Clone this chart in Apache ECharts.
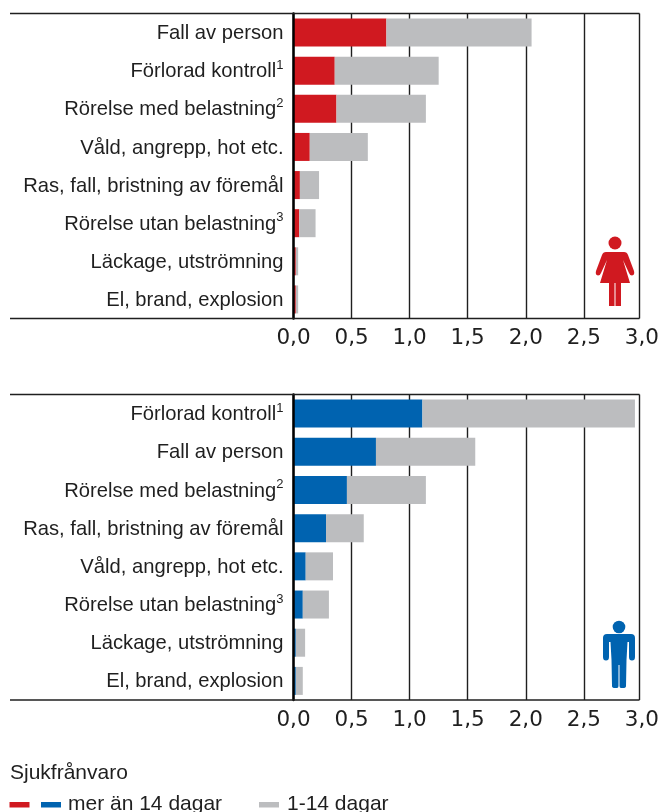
<!DOCTYPE html>
<html>
<head>
<meta charset="utf-8">
<style>
  html, body { margin: 0; padding: 0; background: #fff; }
  #chart { width: 662px; height: 812px; }
</style>
<script src="https://cdn.jsdelivr.net/npm/echarts@6/dist/echarts.min.js"></script>
</head>
<body>
<div id="chart"></div>
<script>
// kvinnor
const womenCategories = ['Fall av person', 'Förlorad kontroll', 'Rörelse med belastning', 'Våld, angrepp, hot etc.', 'Ras, fall, bristning av föremål', 'Rörelse utan belastning', 'Läckage, utströmning', 'El, brand, explosion']
const womenLong = [0.8, 0.355, 0.37, 0.14, 0.055, 0.05, 0.02, 0.02]
const womenShort = [1.25, 0.895, 0.77, 0.5, 0.165, 0.14, 0.02, 0.02]

// män
const menCategories = ['Förlorad kontroll', 'Fall av person', 'Rörelse med belastning', 'Ras, fall, bristning av föremål', 'Våld, angrepp, hot etc.', 'Rörelse utan belastning', 'Läckage, utströmning', 'El, brand, explosion']
const menLong = [1.11, 0.71, 0.46, 0.28, 0.105, 0.08, 0.02, 0.02]
const menShort = [1.83, 0.855, 0.68, 0.325, 0.235, 0.225, 0.08, 0.06]

const footnotes = { 'Förlorad kontroll': '1', 'Rörelse med belastning': '2', 'Rörelse utan belastning': '3' }

const legendTitle = 'Sjukfrånvaro'
const legendLong = 'mer än 14 dagar'
const legendShort = '1-14 dagar'

const RED = '#d01920'
const BLUE = '#0063b0'
const GRAY = '#bcbdbf'
const INK = '#1f1f1f'
const FONT = '"Liberation Sans", sans-serif'

// the 3,0 tick sits a little outside the printed frame, so the grid runs past it
const FRAME_RIGHT = 639.5
const GRIDS = [
  { left: 293.5, top: 13.5, width: 350.5, height: 305 },
  { left: 293.5, top: 394.5, width: 350.5, height: 305.5 },
]

function xAxis(i) {
  return {
    type: 'value',
    gridIndex: i,
    min: 0,
    max: 3,
    interval: 0.5,
    axisLine: { show: false },
    axisTick: { show: false },
    splitLine: { show: true, showMaxLine: false, lineStyle: { color: INK, width: 1.4 } },
    axisLabel: {
      color: INK,
      fontFamily: '"DejaVu Sans", sans-serif',
      fontSize: 21.5,
      margin: 9,
      formatter: (v) => v.toFixed(1).replace('.', ','),
    },
  }
}

function yAxis(i, data) {
  return {
    type: 'category',
    gridIndex: i,
    inverse: true,
    data,
    z: 5,
    axisLine: { show: true, lineStyle: { color: '#000', width: 2.5 } },
    axisTick: { show: false },
    splitLine: { show: false },
    axisLabel: {
      margin: 10,
      formatter: (v) => (footnotes[v] ? `{t|${v}}{s|${footnotes[v]}}` : `{t|${v}}`),
      rich: {
        t: { color: INK, fontFamily: FONT, fontSize: 20.2, padding: [2, 0, 0, 0] },
        s: { color: INK, fontFamily: FONT, fontSize: 13, padding: [0, 0, 11, 0] },
      },
    },
  }
}

function stack(i, name, data, color) {
  return {
    type: 'bar',
    name,
    stack: 'g' + i,
    xAxisIndex: i,
    yAxisIndex: i,
    barWidth: 28,
    itemStyle: { color },
    silent: true,
    data,
  }
}

function hline(x1, x2, y) {
  return { type: 'line', shape: { x1, y1: y, x2, y2: y }, style: { stroke: INK, lineWidth: 1.4 }, z: 10 }
}

function vline(x, y1, y2) {
  return { type: 'line', shape: { x1: x, y1, x2: x, y2 }, style: { stroke: INK, lineWidth: 1.4 }, z: 10 }
}

function swatch(x, width, fill) {
  return { type: 'rect', shape: { x, y: 802, width, height: 5.5 }, style: { fill } }
}

function label(x, y, text) {
  return { type: 'text', x, y, style: { text, fill: INK, font: `21px ${FONT}`, textVerticalAlign: 'middle' } }
}

const womanPath = 'M-9,16 L9,16 Q12,16 13,19 L19,35 Q20,39 17,39.5 Q15,39.5 14,37 L8,24 L15,47 L-15,47 L-8,24 L-14,37 Q-15,39.5 -17,39.5 Q-20,39 -19,35 L-13,19 Q-12,16 -9,16 Z M-6,47 L-0.5,47 L-0.5,70 L-6,70 Z M0.5,47 L6,47 L6,70 L0.5,70 Z'
const manPath = 'M-12,14 L12,14 Q16,14 16,18 L16,37 Q16,40.5 13,40.5 Q10,40.5 10,37 L10,22 L8.5,22 L7.5,40 L7,66 Q7,68 4,68 L2,68 Q0.5,68 0.5,66 L0.5,45 L-0.5,45 L-0.5,66 Q-0.5,68 -2,68 L-4,68 Q-7,68 -7,66 L-7.5,40 L-8.5,22 L-10,22 L-10,37 Q-10,40.5 -13,40.5 Q-16,40.5 -16,37 L-16,18 Q-16,14 -12,14 Z'

echarts.graphic.registerShape('woman', echarts.graphic.extendPath(womanPath))
echarts.graphic.registerShape('man', echarts.graphic.extendPath(manPath))

const chart = echarts.init(document.getElementById('chart'), null, { renderer: 'canvas' })
chart.setOption({
  animation: false,
  backgroundColor: '#fff',
  grid: GRIDS,
  xAxis: [xAxis(0), xAxis(1)],
  yAxis: [yAxis(0, womenCategories), yAxis(1, menCategories)],
  series: [
    stack(0, legendLong, womenLong, RED),
    stack(0, legendShort, womenShort, GRAY),
    stack(1, legendLong, menLong, BLUE),
    stack(1, legendShort, menShort, GRAY),
  ],
  graphic: [
    hline(10, FRAME_RIGHT, 13.5),
    hline(10, FRAME_RIGHT, 318.5),
    vline(FRAME_RIGHT, 13.5, 318.5),
    hline(10, FRAME_RIGHT, 394.5),
    hline(10, FRAME_RIGHT, 700),
    vline(FRAME_RIGHT, 394.5, 700),
    { type: 'circle', shape: { cx: 615, cy: 243, r: 6.5 }, style: { fill: RED } },
    { type: 'woman', x: 615, y: 236, style: { fill: RED } },
    { type: 'circle', shape: { cx: 619, cy: 627, r: 6.3 }, style: { fill: BLUE } },
    { type: 'man', x: 619, y: 620, style: { fill: BLUE } },
    label(10, 773, legendTitle),
    swatch(9.5, 20, RED),
    swatch(41, 20, BLUE),
    label(68, 804, legendLong),
    swatch(259, 20, GRAY),
    label(287, 804, legendShort),
  ],
})
</script>
</body>
</html>
